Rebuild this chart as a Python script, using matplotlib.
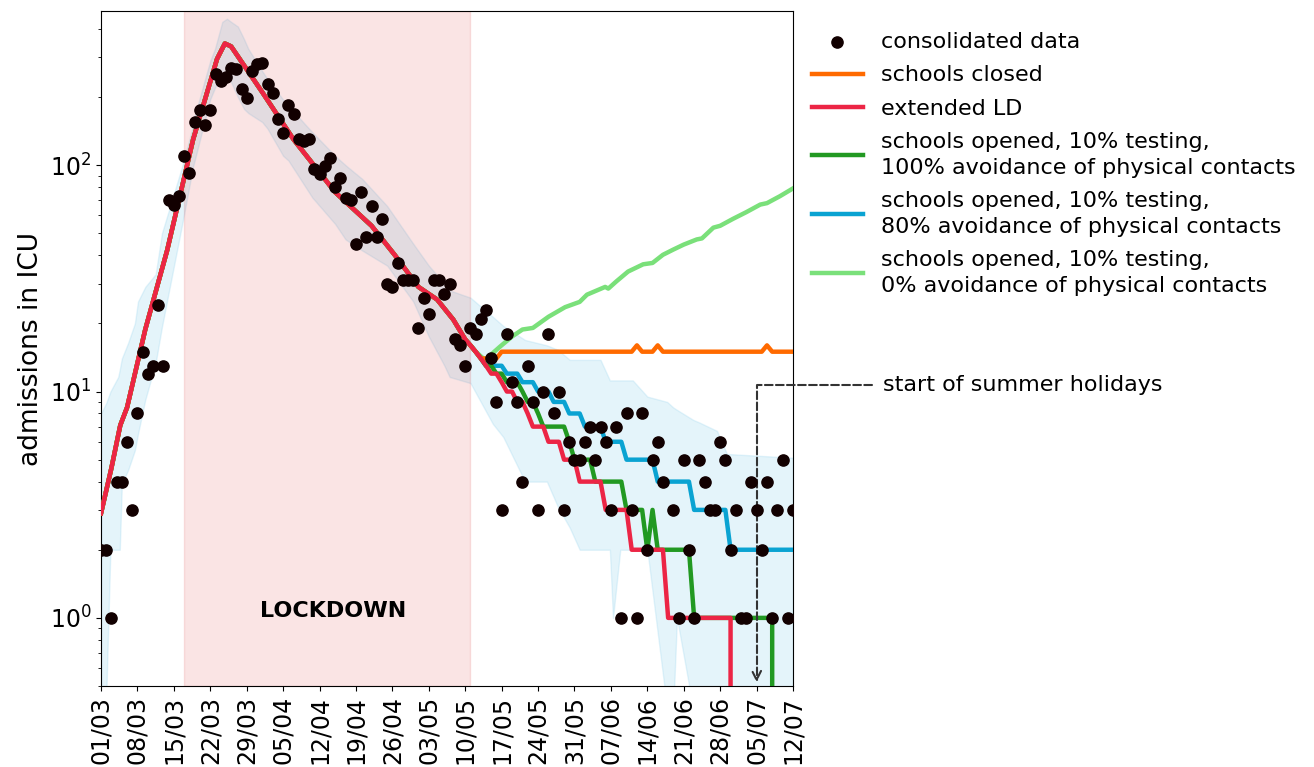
import numpy as np
import matplotlib
matplotlib.use('Agg')
import matplotlib.pyplot as plt
import matplotlib.dates as mdates

# daily ICU admissions, day 0 = 01/03/2020 (nan = 0, not shown on log axis)
obs = [2, 2, 1, 4, 4, 6, 3, 8, 15, 12, 13, 24, 13, 70, 67, 73, 110, 92, 155, 175,
       150, 175, 253, 235, 245, 270, 265, 217, 198, 262, 280, 282, 228, 208, 160, 139, 185, 168, 130, 128,
       130, 96, 91, 99, 108, 80, 88, 72, 70, 45, 76, 48, 66, 48, 58, 30, 29, 37, 31, 31,
       31, 19, 26, 22, 31, 31, 27, 30, 17, 16, 13, 19, 18, 21, 23, 14, 9, 3, 18, 11,
       9, 4, 13, 9, 3, 10, 18, 8, 10, 3, 6, 5, 5, 6, 7, 5, 7, 6, 3, 7,
       1, 8, 3, 1, 8, 2, 5, 6, 4, np.nan, 3, 1, 5, 2, 1, 5, 4, 3, 3, 6,
       5, 2, 3, 1, 1, 4, 3, 2, 4, 1, 3, 5, 1, 3]

# model fit common to all scenarios (until ~10/05)
fit_days = [0, 2, 3.7, 5, 8.5, 12.7, 17.7, 22.3, 23.8, 25, 26, 31, 37, 45, 52, 56.5, 61, 64.6, 67.7, 70]
fit_vals = [2.9, 4.6, 7.1, 8.5, 18.8, 42, 130, 295, 345, 335, 310, 210, 130, 76, 54, 40, 29, 25.5, 20.8, 17]

# scenarios, daily from day 71
closed = [16, 15, 14, 14, 14, 14, 15, 15, 15, 15, 15, 15, 15, 15, 15, 15, 15, 15, 15, 15,
          15, 15, 15, 15, 15, 15, 15, 15, 15, 15, 15, 15, 16, 15, 15, 15, 16, 15, 15, 15,
          15, 15, 15, 15, 15, 15, 15, 15, 15, 15, 15, 15, 15, 15, 15, 15, 15, 16, 15, 15,
          15, 15, 15]
ext_ld = [16, 15, 14, 13, 12, 12, 11, 10, 10, 9, 9, 8, 7, 7, 7, 6, 6, 6, 5, 5,
          5, 4, 4, 4, 4, 4, 3, 3, 3, 3, 3, 2, 2, 2, 2, 2, 2, 2, 1, 1,
          1, 1, 1, 1, 1, 1, 1, 1, 1, 1, 1, 0, 0, 0, 0, 0, 0, 0, 0, 0,
          0, 0, 0]
open100 = [16, 15, 14, 13, 13, 12, 12, 11, 11, 11, 10, 9, 9, 8, 7, 7, 7, 7, 7, 6,
           5, 5, 5, 5, 4, 4, 4, 4, 4, 4, 3, 3, 3, 3, 2, 3, 2, 2, 2, 2,
           2, 2, 2, 1, 1, 1, 1, 1, 1, 1, 1, 1, 1, 1, 1, 1, 1, 1, 1, 0,
           0, 0, 0]
open80 = [16, 15, 14, 13, 13, 13, 13, 12, 12, 12, 11, 11, 11, 10, 10, 10, 9, 9, 9, 8,
          8, 8, 7, 7, 7, 7, 6, 6, 6, 6, 5, 5, 5, 5, 5, 5, 4, 4, 4, 4,
          4, 4, 4, 3, 3, 3, 3, 3, 3, 3, 2, 2, 2, 2, 2, 2, 2, 2, 2, 2,
          2, 2, 2]
open0_days = [71, 72, 73.8, 76.7, 79, 81, 83, 86, 89.2, 92, 93.4, 96.9, 97.5, 99, 101.3, 104.2, 106, 108,
              110, 112, 114.5, 115.5, 117.7, 119, 121.5, 124, 126.7, 128, 130.5, 133]
open0_vals = [16, 15, 13.8, 15.8, 17.5, 18.8, 19.1, 21.4, 23.6, 24.9, 26.8, 29, 28.5, 30.6, 33.9, 36.5, 37, 40.2,
              42.4, 44.6, 47, 47.5, 53, 54, 58, 62, 67, 68, 73, 79]

# uncertainty band
band_days = [0, 1, 1.8, 3.3, 3.6, 4, 5.2, 6.5, 7.1, 8.5, 10.5, 11.7, 15.6, 17.7, 18, 21, 21.9, 23.3, 24.2, 25,
             26.3, 27.5, 28.3, 31, 32, 35, 36, 40.6, 45, 47, 50.2, 55, 60, 63, 66, 67, 71, 75.3, 77.3, 81.5,
             85.7, 87.8, 90.1, 92, 96, 97.8, 98.4, 99.8, 102.2, 105, 108.8, 110, 110.7, 113.8, 115, 118.4, 120.3, 133]
band_lo = [0.4, 0.45, 2, 2, 2, 3.9, 4.5, 5.5, 6.5, 9.2, 13.4, 19.3, 55, 99, 105, 196, 220, 250, 245, 233,
           200, 177, 170, 155, 145, 110, 105, 72, 55, 47, 42, 36, 25, 17.5, 13, 11.6, 10.9, 7.2, 6.3, 4,
           4, 3.1, 2.5, 2, 2, 2, 1, 2, 2, 2, 0.4, 0.4, 1, 0.4, 0.4, 0.4, 0.4, 0.4]
band_hi = [8, 8.9, 10, 11.6, 12.5, 14, 16.4, 20, 25, 29, 33, 50, 99, 150, 165, 290, 327, 430, 444, 430,
           410, 360, 327, 260, 240, 195, 183, 140, 110, 100, 87, 66, 45, 36, 30, 28, 26, 21.4, 19.5, 16.9,
           16, 15.3, 13.8, 13.8, 13.8, 11.2, 11.2, 11.2, 11.2, 9.5, 9, 8.5, 8.3, 7.5, 7.3, 6.7, 5.3, 5.1]

t0 = mdates.date2num(np.datetime64('2020-03-01'))
days = np.arange(len(obs))
scen_days = np.arange(71, 71 + len(closed))

fig = plt.figure(figsize=(13.14, 7.67), dpi=100)
ax = fig.add_axes([0.0769, 0.1056, 0.5266, 0.880])

ax.fill_between(t0 + np.array(band_days), band_lo, band_hi, color='skyblue', alpha=0.22, lw=1)
ax.axvspan(t0 + 16, t0 + 71, color='tab:red', alpha=0.12, lw=1)

def scen(vals):
    return t0 + np.concatenate([fit_days, scen_days]), np.concatenate([fit_vals, vals])

ax.plot(t0 + np.array(fit_days + open0_days), fit_vals + open0_vals, color='#7ae07a', lw=3.2,
        label='schools opened, 10% testing,\n0% avoidance of physical contacts', zorder=3)
x, y = scen(open80)
ax.plot(x, y, color='#0aa3d2', lw=3.2, zorder=3,
        label='schools opened, 10% testing,\n80% avoidance of physical contacts')
x, y = scen(open100)
ax.plot(x, y, color='#229922', lw=3.2, zorder=3,
        label='schools opened, 10% testing,\n100% avoidance of physical contacts')
x, y = scen(closed)
ax.plot(x, y, color='#ff6a00', lw=3.2, zorder=3, label='schools closed')
x, y = scen(ext_ld)
ax.plot(x, y, color='#ec2545', lw=3.2, zorder=4, label='extended LD')

ax.scatter(t0 + days, obs, s=65, color='#120000', zorder=5, label='consolidated data')

ax.set_yscale('log', nonpositive='clip')
ax.set_ylim(0.5, 480)
ax.set_xlim(t0, t0 + 133)
ax.set_xticks(t0 + np.arange(0, 134, 7))
ax.xaxis.set_major_formatter(mdates.DateFormatter('%d/%m'))
ax.tick_params(axis='x', labelrotation=90, labelsize=17)
ax.tick_params(axis='y', labelsize=17)
ax.set_ylabel('admissions in ICU', fontsize=19)

ax.text(t0 + 44.6, 1.07, 'LOCKDOWN', fontsize=16, fontweight='bold', ha='center', va='center')

ax.annotate('start of summer holidays', xy=(t0 + 126, 0.52), xytext=(883, 382),
            textcoords='figure pixels', fontsize=16, va='center', ha='left',
            annotation_clip=False,
            arrowprops=dict(arrowstyle='->', ls='--', lw=1.5, color='#333333',
                            connectionstyle='angle,angleA=0,angleB=90,rad=0', shrinkA=6, shrinkB=0))

h, l = ax.get_legend_handles_labels()
order = [5, 3, 4, 2, 1, 0]
leg = ax.legend([h[i] for i in order], [l[i] for i in order], loc='upper left',
                bbox_to_anchor=(1.0145, 0.982), borderaxespad=0, frameon=False, fontsize=16,
                handlelength=2.3, handletextpad=0.8, labelspacing=0.6)
for t in leg.get_texts():
    t.set_linespacing(1.35)

fig.savefig('out.png', dpi=100)
